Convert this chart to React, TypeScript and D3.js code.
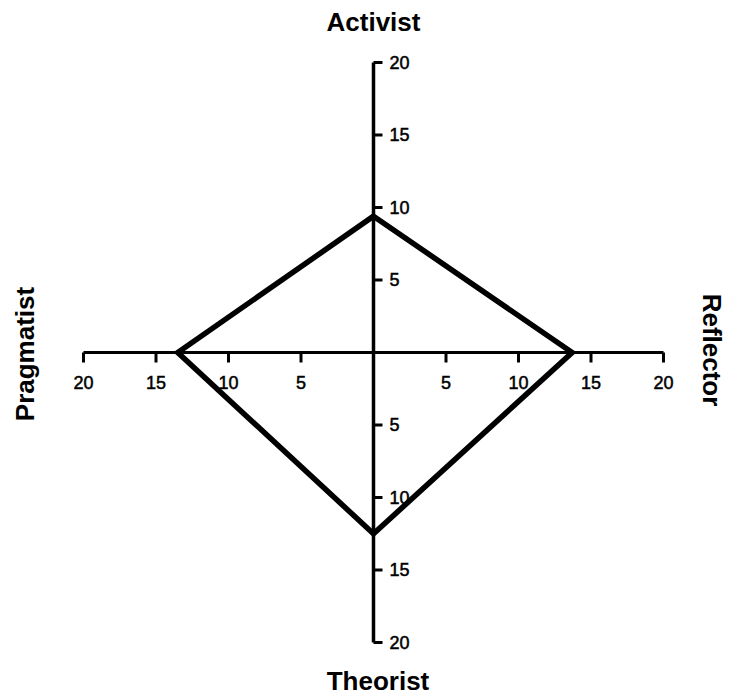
import * as d3 from "d3";

const WIDTH = 732;
const HEIGHT = 697;
const CX = 373.5;
const CY = 352.5;
const RADIUS = 290;
const FONT = "'Liberation Sans', Arial, Helvetica, sans-serif";

// axes in drawing order: up, right, down, left
const dimensions = ["Activist", "Reflector", "Theorist", "Pragmatist"];
const scores = [9.4, 13.7, 12.5, 13.5];
const tickValues = [5, 10, 15, 20];
const maxScore = 20;

const directions: [number, number][] = [
  [0, -1],
  [1, 0],
  [0, 1],
  [-1, 0],
];

export default function App() {
  const r = d3.scaleLinear().domain([0, maxScore]).range([0, RADIUS]);

  const points: [number, number][] = scores.map((v, i) => [
    CX + directions[i][0] * r(v),
    CY + directions[i][1] * r(v),
  ]);
  const polygon = d3.line().curve(d3.curveLinearClosed)(points) ?? "";

  return (
    <div style={{ position: "absolute", left: 0, top: 0 }}>
      <svg width={WIDTH} height={HEIGHT} viewBox={`0 0 ${WIDTH} ${HEIGHT}`} style={{ display: "block", background: "#fff" }}>
        {/* horizontal axis */}
        <line x1={CX - r(maxScore)} x2={CX + r(maxScore)} y1={CY} y2={CY} stroke="#000" strokeWidth={3} />
        {/* vertical axis */}
        <line x1={CX} x2={CX} y1={CY - r(maxScore)} y2={CY + r(maxScore)} stroke="#000" strokeWidth={3.5} />

        <g className="h-ticks">
          {tickValues.flatMap((t) =>
            [-1, 1].map((s) => (
              <g key={`h${s}${t}`} transform={`translate(${CX + s * r(t)},${CY})`}>
                <line y1={0} y2={10} stroke="#000" strokeWidth={3} />
                <text y={36} textAnchor="middle" fontFamily={FONT} fontSize={18} stroke="#000" strokeWidth={0.5}>
                  {t}
                </text>
              </g>
            ))
          )}
        </g>

        <g className="v-ticks">
          {tickValues.flatMap((t) =>
            [-1, 1].map((s) => (
              <g key={`v${s}${t}`} transform={`translate(${CX},${CY + s * r(t)})`}>
                <line x1={0} x2={9} stroke="#000" strokeWidth={3} />
                <text x={16} dy="0.36em" fontFamily={FONT} fontSize={18} stroke="#000" strokeWidth={0.5}>
                  {t}
                </text>
              </g>
            ))
          )}
        </g>

        <path d={polygon} fill="none" stroke="#000" strokeWidth={5.5} strokeLinejoin="miter" />

        <g fontFamily={FONT} fontWeight="bold" fontSize={26} fill="#000" textAnchor="middle">
          <text x={CX} y={31}>{dimensions[0]}</text>
          <text transform="translate(703,350) rotate(90)">{dimensions[1]}</text>
          <text x={378} y={690}>{dimensions[2]}</text>
          <text transform="translate(34,354) rotate(-90)">{dimensions[3]}</text>
        </g>
      </svg>
    </div>
  );
}
